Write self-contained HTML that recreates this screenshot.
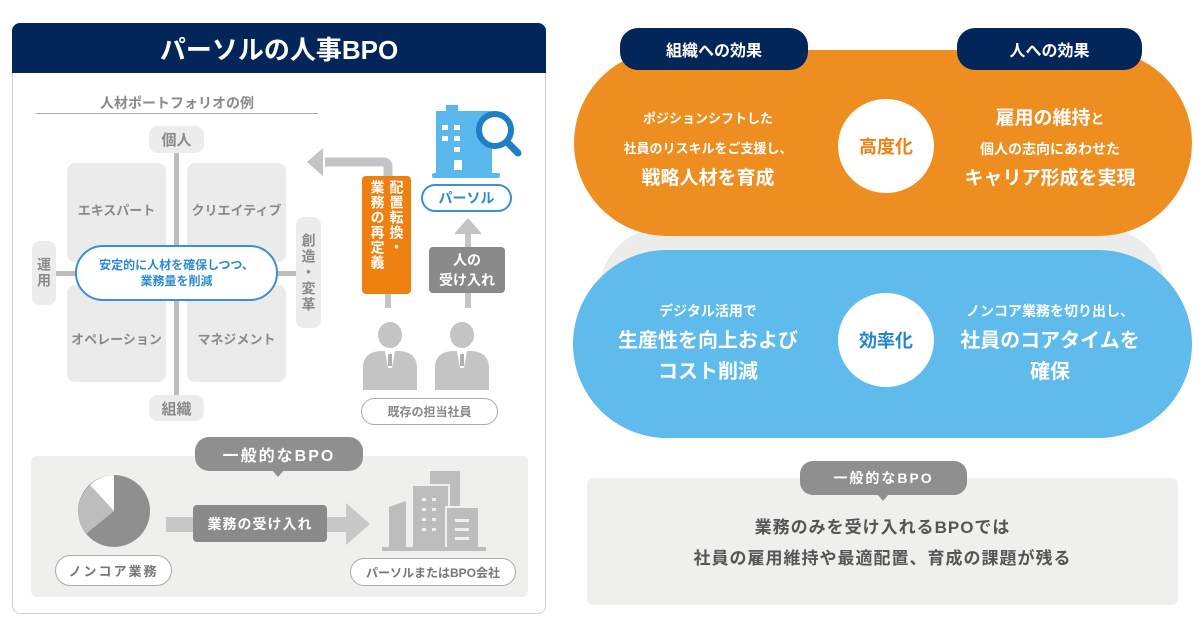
<!DOCTYPE html>
<html><head><meta charset="utf-8"><style>
*{margin:0;padding:0;box-sizing:border-box}
body{width:1200px;height:630px;background:#fff;position:relative;overflow:hidden;font-family:"Liberation Sans","Noto Sans CJK JP",sans-serif;font-weight:bold}
.a{position:absolute}
.c{display:flex;align-items:center;justify-content:center;text-align:center}
.q{background:#ebebeb;border-radius:8px;color:#8a8a8a;font-size:13px}
.pill{border-radius:20px;background:#ececec;color:#8a8a8a}
.vt{writing-mode:vertical-rl;letter-spacing:2px}
</style></head><body>
<!-- left card -->
<div class="a" style="left:12px;top:23px;width:534px;height:591px;border:1.5px solid #cfcfcf;border-radius:8px"></div>
<div class="a c" style="left:12px;top:23px;width:534px;height:50px;background:#03265a;border-radius:8px 8px 0 0;color:#fff;font-size:26px">パーソルの人事BPO</div>
<div class="a" style="left:36px;top:93px;width:282px;text-align:center;color:#8a8a8a;font-size:14px">人材ポートフォリオの例</div>
<div class="a" style="left:36px;top:113px;width:282px;height:1px;background:#aaa"></div>
<div class="a q" style="left:67px;top:163px;width:99px;height:99px"></div>
<div class="a q" style="left:187px;top:163px;width:99px;height:99px"></div>
<div class="a q" style="left:67px;top:285px;width:99px;height:97px"></div>
<div class="a q" style="left:187px;top:285px;width:99px;height:97px"></div>
<div class="a" style="left:67px;top:200px;width:99px;text-align:center;color:#8a8a8a;font-size:13px">エキスパート</div>
<div class="a" style="left:187px;top:200px;width:99px;text-align:center;color:#8a8a8a;font-size:13px">クリエイティブ</div>
<div class="a" style="left:62px;top:329px;width:109px;text-align:center;color:#8a8a8a;font-size:13px">オペレーション</div>
<div class="a" style="left:187px;top:329px;width:99px;text-align:center;color:#8a8a8a;font-size:13px">マネジメント</div>
<div class="a" style="left:174px;top:150px;width:5px;height:250px;background:#bdbdbd"></div>
<div class="a" style="left:52px;top:271px;width:248px;height:5px;background:#bdbdbd"></div>
<div class="a pill c" style="left:149px;top:126px;width:55px;height:27px;border-radius:9px;font-size:15px">個人</div>
<div class="a pill c" style="left:149px;top:395px;width:55px;height:26px;border-radius:9px;font-size:15px">組織</div>
<div class="a pill c vt" style="left:32px;top:241px;width:24px;height:64px;border-radius:8px;font-size:14px">運用</div>
<div class="a pill c vt" style="left:296px;top:217px;width:25px;height:111px;border-radius:8px;font-size:14px">創造・変革</div>
<div class="a c" style="left:75px;top:245px;width:203px;height:56px;border:2px solid #3a8fd6;border-radius:28px;background:#fff;color:#2d8ad4;font-size:12px;line-height:16px">安定的に人材を確保しつつ、<br>業務量を削減</div>
<!-- gray arrow up-left -->
<svg class="a" style="left:300px;top:140px" width="100" height="40"><path d="M88 38 V27 Q88 22 83 22 H25" fill="none" stroke="#c4c4c4" stroke-width="9"/><polygon points="7,22 23,8 23,36" fill="#c4c4c4"/></svg>
<div class="a" style="left:385px;top:294px;width:6px;height:14px;background:#c4c4c4"></div>
<div class="a c" style="left:362px;top:176px;width:49px;height:118px;background:#ee8010;border-radius:4px;color:#fff;font-size:14px;line-height:19px"><div class="vt" style="height:110px;text-align:start;letter-spacing:1px">配置転換・<br>業務の再定義</div></div>
<!-- building icon -->
<svg class="a" style="left:432px;top:103px" width="92" height="78"><rect x="14" y="2" width="12" height="8" fill="#5bb8ec"/><rect x="4" y="8" width="56" height="64" fill="#5bb8ec"/><rect x="0" y="70" width="68" height="5" rx="2" fill="#5bb8ec"/><g fill="#fff"><rect x="10" y="22" width="6" height="5"/><rect x="22" y="22" width="6" height="5"/><rect x="10" y="33" width="6" height="5"/><rect x="22" y="33" width="6" height="5"/><rect x="22" y="44" width="6" height="5"/><rect x="22" y="57" width="8" height="10"/></g><circle cx="63" cy="27" r="16" fill="#fff" stroke="#1d7fc4" stroke-width="6"/><line x1="75" y1="39" x2="86" y2="50" stroke="#1d7fc4" stroke-width="7" stroke-linecap="round"/></svg>
<div class="a c" style="left:421px;top:184px;width:91px;height:28px;border:2px solid #3a8fd6;border-radius:14px;color:#2d8ad4;font-size:14px">パーソル</div>
<svg class="a" style="left:452px;top:216px" width="32" height="92"><polygon points="16,2 30,18 2,18" fill="#c4c4c4"/><rect x="13" y="16" width="6" height="76" fill="#c4c4c4"/></svg>
<div class="a c" style="left:429px;top:247px;width:76px;height:46px;background:#8a8a8a;border-radius:4px;color:#fff;font-size:14px;line-height:20px">人の<br>受け入れ</div>
<!-- people -->
<svg class="a" style="left:360px;top:322px" width="140" height="70"><g fill="#c4c4c4"><ellipse cx="30" cy="13" rx="12" ry="13"/><path d="M3 68 V46 Q3 31 19 29 H41 Q57 31 57 46 V68 Z"/><ellipse cx="102" cy="13" rx="12" ry="13"/><path d="M75 68 V46 Q75 31 91 29 H113 Q129 31 129 46 V68 Z"/></g><g fill="#fff"><polygon points="25,29 35,29 32,46 28,46"/><polygon points="97,29 107,29 104,46 100,46"/></g><g fill="#b0b0b0"><rect x="28" y="32" width="4" height="12"/><rect x="100" y="32" width="4" height="12"/></g></svg>
<div class="a c" style="left:361px;top:398px;width:137px;height:27px;border:1.5px solid #aaa;border-radius:14px;color:#8a8a8a;font-size:12px">既存の担当社員</div>
<!-- bottom left gray area -->
<div class="a" style="left:31px;top:456px;width:497px;height:141px;background:#efefee;border-radius:6px"></div>
<div class="a c" style="left:195px;top:437px;width:168px;height:34px;background:#8f8f8f;border-radius:14px;color:#fff;font-size:16px;letter-spacing:2px">一般的なBPO</div>
<div class="a" style="left:272px;top:470px;border:6px solid transparent;border-top:7px solid #8f8f8f"></div>
<svg class="a" style="left:77px;top:474px" width="74" height="74"><circle cx="37" cy="37" r="36" fill="#8f8f8f"/><path d="M37 37 L9 60 A36 36 0 0 1 13 11 Z" fill="#bdbdbd"/><path d="M37 37 L13 11 A36 36 0 0 1 37 1 Z" fill="#fff"/></svg>
<svg class="a" style="left:166px;top:502px" width="206" height="44"><rect x="0" y="15" width="182" height="15" fill="#c8c8c8"/><polygon points="180,1 204,22 180,43" fill="#c8c8c8"/></svg>
<div class="a c" style="left:193px;top:505px;width:134px;height:37px;background:#8a8a8a;border-radius:4px;color:#fff;font-size:14px;letter-spacing:1px">業務の受け入れ</div>
<svg class="a" style="left:382px;top:471px" width="106" height="82"><g fill="#bdbdbd"><rect x="48" y="0" width="30" height="45"/><rect x="30" y="14" width="37" height="64" stroke="#efefee" stroke-width="2"/><polygon points="7,78 7,36 24,30 24,78"/><rect x="64" y="36" width="33" height="42" stroke="#efefee" stroke-width="2"/><rect x="0" y="76" width="104" height="4"/></g><g fill="#efefee"><rect x="40" y="27" width="4" height="3"/><rect x="50" y="27" width="4" height="3"/><rect x="40" y="37" width="4" height="3"/><rect x="50" y="37" width="4" height="3"/><rect x="40" y="47" width="4" height="3"/><rect x="50" y="47" width="4" height="3"/><rect x="40" y="57" width="4" height="3"/><rect x="50" y="57" width="4" height="3"/><rect x="73" y="48" width="14" height="3"/><rect x="73" y="57" width="14" height="3"/><rect x="73" y="66" width="14" height="3"/></g></svg>
<div class="a c" style="left:55px;top:555px;width:117px;height:31px;background:#fff;border:1.5px solid #aaa;border-radius:16px;color:#777;font-size:13px;letter-spacing:2px">ノンコア業務</div>
<div class="a c" style="left:350px;top:558px;width:166px;height:28px;background:#fff;border:1.5px solid #aaa;border-radius:14px;color:#777;font-size:12px">パーソルまたはBPO会社</div>
<!-- right -->
<div class="a" style="left:600px;top:229px;width:565px;height:120px;background:#ececea;border-radius:60px"></div>
<div class="a" style="left:573px;top:250px;width:619px;height:188px;background:#5ebbec;border-radius:94px"></div>
<div class="a" style="left:574px;top:50px;width:618px;height:186px;background:#ef8e20;border-radius:93px"></div>
<div class="a c" style="left:620px;top:28px;width:188px;height:42px;background:#03265a;border-radius:18px;color:#fff;font-size:16px">組織への効果</div>
<div class="a c" style="left:957px;top:28px;width:185px;height:42px;background:#03265a;border-radius:18px;color:#fff;font-size:16px">人への効果</div>
<div class="a c" style="left:838px;top:99px;width:96px;height:94px;background:#fff;border-radius:50%;color:#ee8010;font-size:18px">高度化</div>
<div class="a c" style="left:838px;top:293px;width:96px;height:94px;background:#fff;border-radius:50%;color:#1f86cf;font-size:18px">効率化</div>
<div class="a" style="left:598px;top:104px;width:220px;text-align:center;color:#fff;font-size:13px;line-height:30px">ポジションシフトした<br>社員のリスキルをご支援し、<br><span style="font-size:19px">戦略人材を育成</span></div>
<div class="a" style="left:945px;top:104px;width:210px;text-align:center;color:#fff;font-size:14px;line-height:30px"><span style="font-size:19px">雇用の維持</span>と<br>個人の志向にあわせた<br><span style="font-size:19px">キャリア形成を実現</span></div>
<div class="a" style="left:598px;top:296px;width:220px;text-align:center;color:#fff;font-size:14px;line-height:30px">デジタル活用で<br><span style="font-size:20px">生産性を向上および<br>コスト削減</span></div>
<div class="a" style="left:945px;top:296px;width:210px;text-align:center;color:#fff;font-size:14px;line-height:30px">ノンコア業務を切り出し、<br><span style="font-size:20px">社員のコアタイムを<br>確保</span></div>
<div class="a" style="left:587px;top:478px;width:591px;height:127px;background:#efefee;border-radius:6px"></div>
<div class="a c" style="left:800px;top:461px;width:167px;height:34px;background:#8f8f8f;border-radius:13px;color:#fff;font-size:14px;letter-spacing:2px">一般的なBPO</div>
<div class="a" style="left:877px;top:494px;border:6px solid transparent;border-top:7px solid #8f8f8f"></div>
<div class="a" style="left:587px;top:512px;width:591px;text-align:center;color:#555;font-size:17px;line-height:31px;letter-spacing:1px">業務のみを受け入れるBPOでは<br>社員の雇用維持や最適配置、育成の課題が残る</div>
</body></html>
